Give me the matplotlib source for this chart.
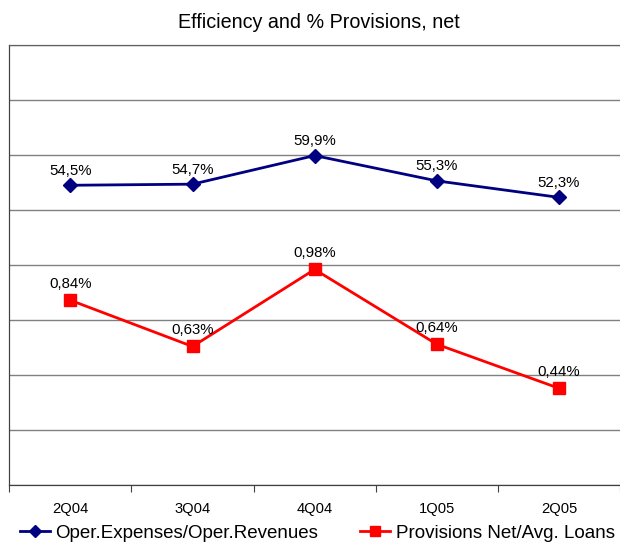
import matplotlib
matplotlib.use("Agg")
import matplotlib.pyplot as plt
from matplotlib.lines import Line2D

plt.rcParams['font.family'] = ['Liberation Sans', 'DejaVu Sans']

quarters = ['2Q04', '3Q04', '4Q04', '1Q05', '2Q05']
efficiency = [54.5, 54.7, 59.9, 55.3, 52.3]
provisions = [0.84, 0.63, 0.98, 0.64, 0.44]
eff_labels = ['54,5%', '54,7%', '59,9%', '55,3%', '52,3%']
prov_labels = ['0,84%', '0,63%', '0,98%', '0,64%', '0,44%']

blue = '#000080'
red = '#ff0000'

fig = plt.figure(figsize=(6.2, 5.42), dpi=100)
ax = fig.add_axes([0.015, 0.105, 0.985, 0.812])
ax2 = ax.twinx()

x = list(range(len(quarters)))

ax.plot(x, efficiency, color=blue, lw=2, marker='D', ms=7, zorder=3)
ax2.plot(x, provisions, color=red, lw=2, marker='s', ms=8, zorder=3)

for xi, v, t in zip(x, efficiency, eff_labels):
    ax.annotate(t, (xi, v), xytext=(0, 10.5), textcoords='offset points',
                ha='center', va='center', fontsize=10.8)
for xi, v, t in zip(x, provisions, prov_labels):
    ax2.annotate(t, (xi, v), xytext=(0, 12), textcoords='offset points',
                 ha='center', va='center', fontsize=10.8)

ax.set_xlim(-0.5, 4.5)
ax.set_ylim(0, 80)
ax2.set_ylim(0, 2.0)
ax.set_yticks(range(0, 81, 10))
ax.grid(axis='y', color='#808080', lw=1)
ax.set_axisbelow(True)
ax.tick_params(axis='y', left=False, labelleft=False)
ax2.set_yticks([])

ax.set_xticks([-0.5, 0.5, 1.5, 2.5, 3.5, 4.5])
ax.set_xticklabels([])
ax.set_xticks(x, minor=True)
ax.set_xticklabels(quarters, minor=True, fontsize=10.6)
ax.tick_params(axis='x', which='major', direction='out', length=5, color='#404040')
ax.tick_params(axis='x', which='minor', length=0, pad=12)

for a in (ax, ax2):
    a.spines['right'].set_visible(False)
    a.spines['top'].set_color('#606060')
    a.spines['left'].set_color('#404040')
    a.spines['bottom'].set_color('#404040')

fig.text(0.515, 0.959, 'Efficiency and % Provisions, net', ha='center', va='center', fontsize=14.2)

h_eff = Line2D([], [], color=blue, lw=2, marker='D', ms=6)
h_prov = Line2D([], [], color=red, lw=2, marker='s', ms=7)
leg1 = fig.legend([h_eff], ['Oper.Expenses/Oper.Revenues'], loc='center left',
                  bbox_to_anchor=(20 / 620, 1 - 533 / 542), frameon=False,
                  fontsize=13.5, handlelength=1.6, handletextpad=0.3,
                  borderpad=0, borderaxespad=0)
leg2 = fig.legend([h_prov], ['Provisions Net/Avg. Loans'], loc='center left',
                  bbox_to_anchor=(360 / 620, 1 - 533 / 542), frameon=False,
                  fontsize=13.5, handlelength=1.6, handletextpad=0.3,
                  borderpad=0, borderaxespad=0)

fig.savefig('out.png', dpi=100)
